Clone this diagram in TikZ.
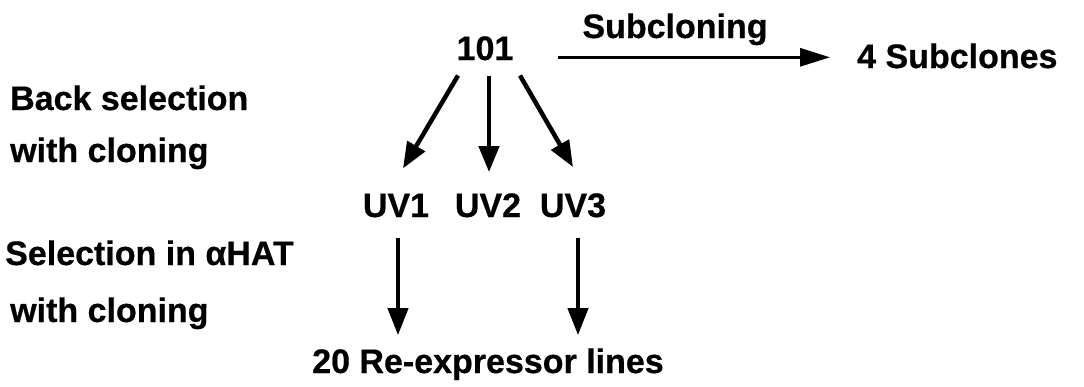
\documentclass[tikz,border=0pt]{standalone}
\usepackage{fontspec}
\setmainfont{Liberation Sans}[BoldFeatures={FakeBold=0.6}]
\usetikzlibrary{arrows.meta,calc}
\tikzset{
  lbl/.style={inner sep=0pt, font=\fontsize{34}{40}\selectfont\bfseries},
  bigarr/.style={line width=4.5pt, -{Triangle[length=26pt,width=20pt]}},
  midarr/.style={line width=4pt, -{Triangle[length=27pt,width=20pt]}},
  subarr/.style={line width=3pt, -{Triangle[length=30pt,width=18pt]}}
}
\begin{document}
\begin{tikzpicture}[x=1pt,y=-1pt]
\useasboundingbox (0,0) rectangle (1084,386);
% nodes
\node[lbl, anchor=base] (n101) at (485,60) {101};
\node[lbl, anchor=base] (subl) at (675,38) {Subcloning};
\node[lbl, anchor=base west] (sub4) at (857,68) {4 Subclones};
\node[lbl, anchor=base west] (back1) at (10,110) {Back selection};
\node[lbl, anchor=base west] (back2) at (10,162) {with cloning};
\node[lbl, anchor=base] (uv1) at (396,217) {UV1};
\node[lbl, anchor=base] (uv2) at (488,217) {UV2};
\node[lbl, anchor=base] (uv3) at (573,217) {UV3};
\node[lbl, anchor=base west] (sel1) at (5,265) {Selection in αHAT};
\node[lbl, anchor=base west] (sel2) at (10,322) {with cloning};
\node[lbl, anchor=base] (re20) at (488,373) {20 Re-expressor lines};
% connectors from 101
\draw[bigarr] ($(n101.south)+(-27,15)$) -- ($(uv1.north)+(7,-25)$);
\draw[bigarr] ($(n101.south)+(4,15)$) -- ($(uv2.north)+(1,-21)$);
\draw[bigarr] ($(n101.south)+(35,15)$) -- ($(uv3.north)+(0,-26)$);
% subcloning arrow
\draw[subarr, shorten <=44pt, shorten >=27pt]
  ([yshift=-9pt]n101.east) -- ([yshift=-9pt]n101.east -| sub4.west);
% lower arrows
\draw[midarr, shorten <=20pt, shorten >=13pt]
  ([xshift=2pt]uv1.south) -- ([xshift=2pt]uv1.south |- re20.north);
\draw[midarr, shorten <=20pt, shorten >=13pt]
  ([xshift=5pt]uv3.south) -- ([xshift=5pt]uv3.south |- re20.north);
\end{tikzpicture}
\end{document}
